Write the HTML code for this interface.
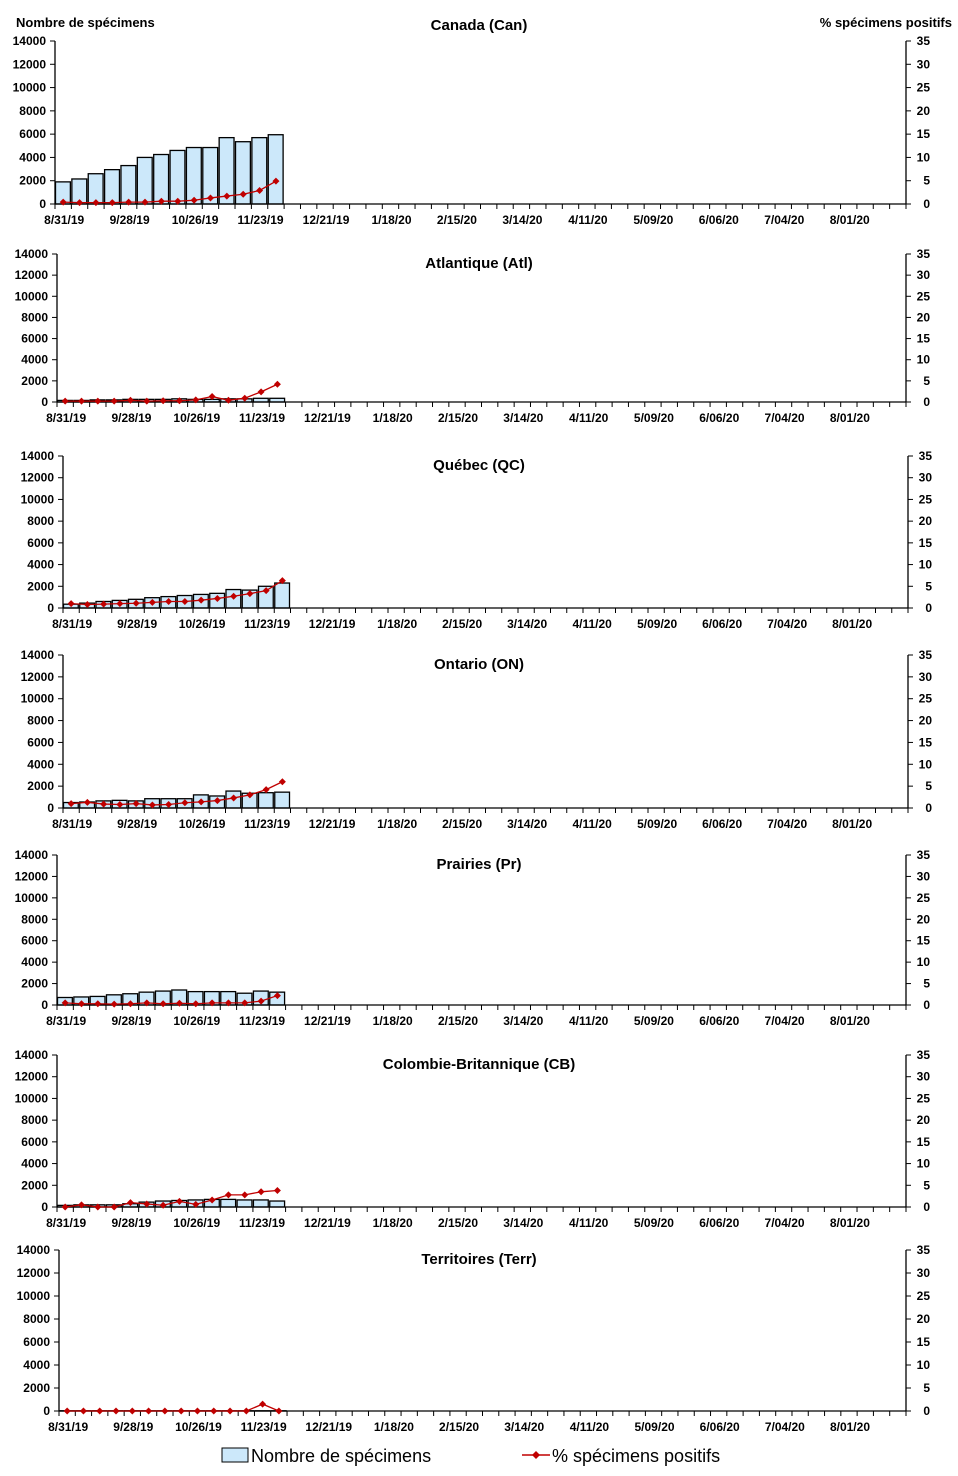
<!DOCTYPE html>
<html><head><meta charset="utf-8"><style>
body{margin:0;background:#fff}
svg{display:block;font-family:"Liberation Sans",Arial,sans-serif}
</style></head><body>
<svg id="chart" width="958" height="1476" viewBox="0 0 958 1476" xmlns="http://www.w3.org/2000/svg">
<text x="16" y="27" font-size="13" font-weight="bold">Nombre de spécimens</text>
<text x="952" y="27" font-size="13" font-weight="bold" text-anchor="end">% spécimens positifs</text>
<g>
<rect x="222" y="1448" width="26" height="14" fill="#cce8fa" stroke="#000"/>
<text x="251" y="1462" font-size="18">Nombre de spécimens</text>
<line x1="522" y1="1455" x2="550" y2="1455" stroke="#c00000" stroke-width="1.5"/>
<path d="M536 1451 L540 1455 L536 1459 L532 1455Z" fill="#c00000"/>
<text x="552" y="1462" font-size="18">% spécimens positifs</text>
</g>
</svg>
<script>
const dateLabels=["8/31/19","9/28/19","10/26/19","11/23/19","12/21/19","1/18/20","2/15/20","3/14/20","4/11/20","5/09/20","6/06/20","7/04/20","8/01/20"];
const leftTicks=[0,2000,4000,6000,8000,10000,12000,14000];
const rightTicks=[0,5,10,15,20,25,30,35];
const regionNames=["Canada (Can)","Atlantique (Atl)","Québec (QC)","Ontario (ON)","Prairies (Pr)","Colombie-Britannique (CB)","Territoires (Terr)"];
const canCounts=[1900,2150,2600,2950,3300,4000,4250,4600,4850,4850,5700,5350,5700,5950];
const canPct=[0.4,0.3,0.3,0.3,0.4,0.4,0.6,0.6,0.8,1.3,1.7,2.1,2.9,4.9];
const atlCounts=[150,150,200,200,250,250,250,300,250,250,300,300,350,350];
const atlPct=[0.2,0.2,0.2,0.2,0.4,0.2,0.3,0.3,0.5,1.3,0.4,0.9,2.4,4.2];
const qcCounts=[350,450,600,700,800,950,1050,1150,1250,1350,1700,1650,2000,2300];
const qcPct=[1.0,0.8,0.9,1.0,1.1,1.3,1.5,1.5,1.8,2.2,2.7,3.3,4.0,6.3];
const onCounts=[500,550,650,700,650,850,850,850,1200,1100,1550,1350,1400,1450];
const onPct=[1.0,1.3,0.9,0.8,1.0,0.7,0.8,1.2,1.4,1.7,2.3,3.0,4.2,6.0];
const prCounts=[700,750,800,950,1050,1200,1300,1400,1250,1250,1250,1100,1300,1200];
const prPct=[0.5,0.3,0.3,0.2,0.3,0.5,0.3,0.4,0.3,0.5,0.5,0.5,0.9,2.2];
const cbCounts=[150,200,200,200,300,450,550,600,650,700,700,650,650,550];
const cbPct=[0.0,0.5,0.0,0.0,1.0,0.7,0.4,1.3,0.6,1.6,2.8,2.8,3.5,3.8];
const terrCounts=[20,20,20,20,20,20,20,20,20,20,20,20,20,20];
const terrPct=[0,0,0,0,0,0,0,0,0,0,0,0,1.5,0];
const seriesCounts=[canCounts,atlCounts,qcCounts,onCounts,prCounts,cbCounts,terrCounts];
const seriesPct=[canPct,atlPct,qcPct,onPct,prPct,cbPct,terrPct];
const layout=[[55,906,41,204],[57,906,254,402],[63,908,456,608],[63,908,655,808],[57,906,855,1005],[57,906,1055,1207],[59,906,1250,1411]];
const NS="http://www.w3.org/2000/svg";
const svg=document.getElementById('chart');
function mk(tag,attrs,parent){const e=document.createElementNS(NS,tag);for(const k in attrs)e.setAttribute(k,attrs[k]);parent.appendChild(e);return e;}
const keys=["canada","atlantique","quebec","ontario","prairies","colombie-britannique","territoires"];
layout.forEach((L,p)=>{
  const [x0,x1,yt,yb]=L;const nW=52;const slot=(x1-x0)/nW;
  const yL=v=>yb-(v/14000)*(yb-yt);const yR=v=>yb-(v/35)*(yb-yt);const xC=i=>x0+(i+0.5)*slot;
  const g=mk('g',{},svg);
  
  
  const t=mk('text',{x:479,y:yt-10+(p==0?-6:0)+ (p==0?0:0),'font-size':15,'font-weight':'bold','text-anchor':'middle'},g);
  t.setAttribute('y',p==0?30:yt+14);
  t.textContent=regionNames[p];
  
  
  // bars
  seriesCounts[p].forEach((v,i)=>{
    const r=mk('rect',{x:x0+i*slot+0.5,y:yL(v),width:slot-1.5,height:yb-yL(v),fill:'#cce8fa',stroke:'#000','stroke-width':1.3},g);
    
    
  });
  // axes
  const ax=mk('path',{d:`M${x0} ${yt} V${yb} H${x1} M${x1} ${yt} V${yb}`,stroke:'#000',fill:'none','stroke-width':1.3},g);
  
  
  leftTicks.forEach(v=>{
    mk('line',{x1:x0-5,x2:x0,y1:yL(v),y2:yL(v),stroke:'#000'},g);
    const tx=mk('text',{x:x0-9,y:yL(v)+4,'font-size':12,'font-weight':'bold','text-anchor':'end'},g);
    tx.textContent=v;
    
    
  });
  rightTicks.forEach(v=>{
    mk('line',{x1:x1,x2:x1+5,y1:yR(v),y2:yR(v),stroke:'#000'},g);
    const tx=mk('text',{x:x1+24,y:yR(v)+4,'font-size':12,'font-weight':'bold','text-anchor':'end'},g);
    tx.textContent=v;
    
    
  });
  for(let i=0;i<=nW;i++)mk('line',{x1:x0+i*slot,x2:x0+i*slot,y1:yb,y2:yb+5,stroke:'#000'},g);
  dateLabels.forEach((d,k)=>{
    const tx=mk('text',{x:xC(k*4)+1,y:yb+20,'font-size':12,'font-weight':'bold','text-anchor':'middle'},g);
    tx.textContent=d;
    
    
  });
  const pts=seriesPct[p].map((v,i)=>xC(i)+','+yR(v)).join(' ');
  const pl=mk('polyline',{points:pts,fill:'none',stroke:'#c00000','stroke-width':1.3},g);
  
  
  seriesPct[p].forEach((v,i)=>{
    const cx=xC(i),cy=yR(v);
    const m=mk('path',{d:`M${cx} ${cy-3.5} L${cx+3.5} ${cy} L${cx} ${cy+3.5} L${cx-3.5} ${cy}Z`,fill:'#c00000'},g);
    
    
  });
});
</script>
</body></html>
